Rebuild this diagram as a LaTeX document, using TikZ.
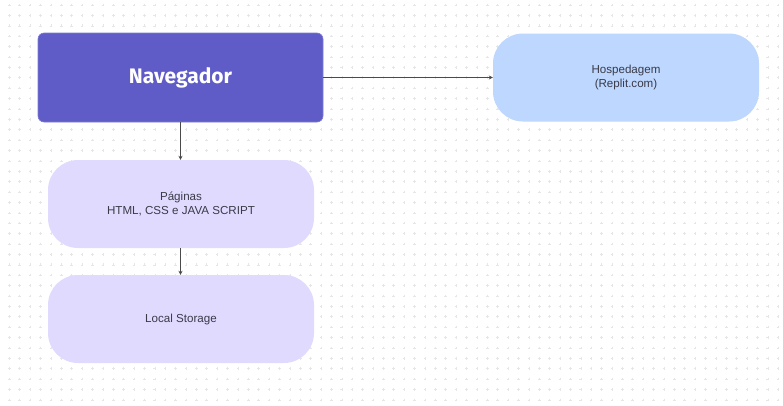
\documentclass[tikz,border=0pt]{standalone}
\usepackage{fontspec}
\setmainfont{Liberation Sans}
\newfontfamily\titlefont{Fira Sans}
\usepackage{xcolor}
\definecolor{violet}{HTML}{5F5CC7}
\definecolor{skyblue}{HTML}{BDD7FE}
\definecolor{lilac}{HTML}{E0DBFE}
\definecolor{ink}{HTML}{3A3A48}
\definecolor{wire}{HTML}{4A4A4A}
\definecolor{dotgrey}{HTML}{E6E6E6}
\usepackage{tikz}
\usetikzlibrary{arrows.meta,positioning}

\begin{document}
\begin{tikzpicture}[
  x=1pt, y=-1pt,
  box/.style={rectangle, align=center, text=ink, font=\fontsize{11.6}{14}\selectfont,
    minimum width=266pt, minimum height=88pt, inner sep=0pt},
  pill/.style={box, rounded corners=30pt},
  arr/.style={-{Stealth[length=4pt, width=4pt]}, line width=1.1pt, color=wire}
]
\useasboundingbox (0,0) rectangle (783,405);

% Dotted canvas
\fill[white] (0,0) rectangle (783,405);
\foreach \i in {0,...,75} {
  \foreach \j in {0,...,38} {
    \draw[dotgrey, line width=0.5pt] (9.3+10.39*\i-1.3, 5+10.39*\j) -- ++(2.6,0)
      (9.3+10.39*\i, 5+10.39*\j-1.3) -- ++(0,2.6);
  }
}

% Browser
\node[box, fill=violet, draw=violet!80!white, line width=0.6pt, rounded corners=6pt,
      minimum width=285pt, minimum height=89pt, text=white,
      font=\titlefont\bfseries\fontsize{21}{24}\selectfont] (nav) at (180.5,77.5) {Navegador};

% Hosting
\node[pill, fill=skyblue] (host) at (626,77.5) {Hospedagem\\(Replit.com)};

% Pages and storage
\node[pill, fill=lilac] (pages) at (181,204) {Páginas\\HTML, CSS e JAVA SCRIPT};
\node[pill, fill=lilac] (store) at (181,319) {Local Storage};

% Links
\draw[arr] (nav.east) -- (host.west);
\draw[arr] (nav.south) -- (nav.south |- pages.north);
\draw[arr] (pages.south -| nav.south) -- (nav.south |- store.north);

\end{tikzpicture}
\end{document}
